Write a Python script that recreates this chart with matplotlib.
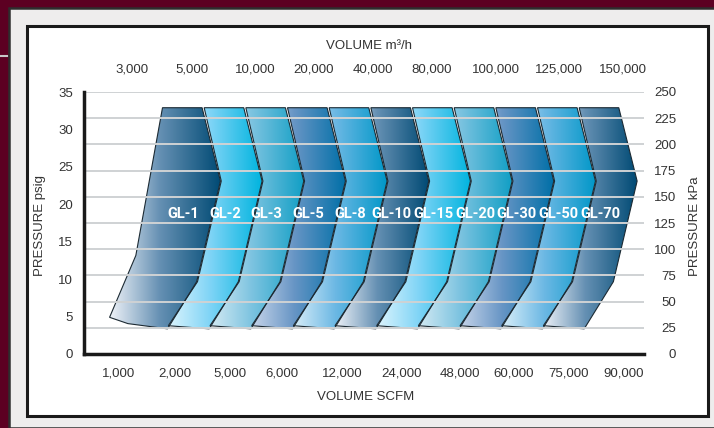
import numpy as np
import matplotlib
matplotlib.use('Agg')
import matplotlib.pyplot as plt
from matplotlib.patches import Polygon, Rectangle
from matplotlib.lines import Line2D
from matplotlib.colors import LinearSegmentedColormap

# ---- data ----
models = ['GL-1', 'GL-2', 'GL-3', 'GL-5', 'GL-8', 'GL-10',
          'GL-15', 'GL-20', 'GL-30', 'GL-50', 'GL-70']
scfm_labels = ['1,000', '2,000', '5,000', '6,000', '12,000',
               '24,000', '48,000', '60,000', '75,000', '90,000']
m3h_labels = ['3,000', '5,000', '10,000', '20,000', '40,000',
              '80,000', '100,000', '125,000', '150,000']
psig_ticks = [0, 5, 10, 15, 20, 25, 30, 35]
kpa_ticks = [0, 25, 50, 75, 100, 125, 150, 175, 200, 225, 250]

# operating envelope of each blower (kPa)
p_top = 235      # max pressure
p_tip = 165      # chevron point
p_knee = 69      # lower bend
p_low_r = 24     # bottom right corner
p_low_l = 27     # bottom left corner
# GL-1 has its own left edge
gl1_knee = 94
gl1_foot = 35
gl1_heel = 29

# ---- layout ----
W, H = 714, 428
slot = 41.67                 # px per model
ax_l, ax_r, ax_t, ax_b = 84, 644, 92, 354
base = (162.5 - ax_l) / slot
scfm_pos = [0.84, 2.18, 3.50, 4.75, 6.20, 7.63, 9.02, 10.31, 11.64, 12.94]
m3h_pos = [1.15, 2.59, 4.10, 5.50, 6.94, 8.35, 9.89, 11.40, 12.94]

themes = {
    'navy': ('#eef2f8', '#6590b3', '#004a74'),
    'cyan': ('#dcf4fd', '#7fd4f6', '#00b4df'),
    'teal': ('#d4eaf3', '#7cc3e0', '#119fc5'),
    'blue': ('#c6d4e9', '#6795c5', '#006fa7'),
    'sky':  ('#d9eef9', '#6cb8e4', '#0097c8'),
}
order = ['navy', 'cyan', 'teal', 'blue', 'sky']

txt = '#333333'
FONT = ['Liberation Sans', 'DejaVu Sans']
BOLD = ['Roboto', 'DejaVu Sans']


def fx(x):
    return x / W


def fy(y):
    return 1 - y / H


def draw_shape(ax, xs, ys, cols):
    poly = Polygon(np.column_stack([xs, ys]), closed=True, facecolor='none',
                   edgecolor='#1c2a33', lw=0.8, zorder=1.5)
    ax.add_patch(poly)
    cmap = LinearSegmentedColormap.from_list('g', [(0, cols[0]), (0.45, cols[1]), (1, cols[2])])
    grad = np.linspace(0, 1, 256).reshape(1, -1)
    im = ax.imshow(grad, cmap=cmap, extent=[min(xs), max(xs), min(ys), max(ys)],
                   aspect='auto', origin='lower', interpolation='bilinear', zorder=1)
    im.set_clip_path(poly)


fig = plt.figure(figsize=(W / 100, H / 100), dpi=100, facecolor='#5c0022')

# frames
fig.patches.append(Rectangle((fx(8.5), 0), 1, fy(7.5), transform=fig.transFigure,
                             facecolor='#eeeded', edgecolor='#2e2e2e', lw=1.8, zorder=-3))
fig.patches.append(Rectangle((fx(26.5), fy(415.5)), fx(707.5 - 26.5), (415.5 - 25.5) / H,
                             transform=fig.transFigure, facecolor='white',
                             edgecolor='#1a1a1a', lw=2.2, zorder=-2))
fig.lines.append(Line2D([0, fx(7)], [fy(56), fy(56)], transform=fig.transFigure,
                        color='#c8c8c8', lw=1.5, zorder=-2))

ax = fig.add_axes([fx(ax_l), fy(ax_b), (ax_r - ax_l) / W, (ax_b - ax_t) / H])
ax.set_facecolor('none')

for k, name in enumerate(models):
    L = base + k
    if k == 0:
        xs = [L, L + 0.95, L + 1.39, L + 0.82, L + 0.12, L - 0.83, L - 1.27, L - 0.64]
        ys = [p_top, p_top, p_tip, p_knee, p_low_r, gl1_heel, gl1_foot, gl1_knee]
    else:
        xs = [L, L + 0.95, L + 1.39, L + 0.82, L + 0.12, L - 0.86, L - 0.16, L + 0.41]
        ys = [p_top, p_top, p_tip, p_knee, p_low_r, p_low_l, p_knee, p_tip]
    draw_shape(ax, xs, ys, themes[order[k % 5]])
    ax.text(L + 0.5, 134, name, ha='center', va='center', color='white',
            fontsize=10.5, fontweight='bold', family=BOLD, zorder=3)

# gridlines on top of the shapes
for v in kpa_ticks[1:]:
    ax.axhline(v, color='#cfd2d4', lw=1.4, zorder=2)

ax.set_xlim(0, (ax_r - ax_l) / slot)
ax.set_ylim(0, 250)

for s in ['top', 'right']:
    ax.spines[s].set_visible(False)
for s in ['left', 'bottom']:
    ax.spines[s].set_linewidth(2.5)
    ax.spines[s].set_color('#1a1a1a')
    ax.spines[s].set_zorder(4)

# right kPa axis
ax.yaxis.tick_right()
ax.set_yticks(kpa_ticks)
ax.set_yticklabels([str(v) for v in kpa_ticks], ha='right', family=FONT, fontsize=9.5, color=txt)
ax.tick_params(axis='y', length=0, pad=23)

# bottom SCFM axis
ax.set_xticks(scfm_pos)
ax.set_xticklabels(scfm_labels, family=FONT, fontsize=9.5, color=txt)
ax.tick_params(axis='x', length=0, pad=10)

# left psig axis
sec_y = ax.secondary_yaxis('left', functions=(lambda k: k * 35 / 250, lambda p: p * 250 / 35))
sec_y.set_yticks(psig_ticks)
sec_y.set_yticklabels([str(v) for v in psig_ticks], family=FONT, fontsize=9.5, color=txt)
sec_y.tick_params(length=0, pad=8)
sec_y.spines['left'].set_visible(False)

# top m3/h axis
sec_x = ax.secondary_xaxis('top')
sec_x.set_xticks(m3h_pos)
sec_x.set_xticklabels(m3h_labels, family=FONT, fontsize=9.5, color=txt)
sec_x.tick_params(length=0, pad=12)
sec_x.spines['top'].set_visible(False)

fig.text(fx(369), fy(46), 'VOLUME m³/h', ha='center', va='center', family=FONT, fontsize=9.5, color=txt)
fig.text(fx(366), fy(397), 'VOLUME SCFM', ha='center', va='center', family=FONT, fontsize=9.5, color=txt)
fig.text(fx(40), fy(225), 'PRESSURE psig', rotation=90, ha='center', va='center',
         family=FONT, fontsize=9.5, color=txt)
fig.text(fx(695), fy(226), 'PRESSURE kPa', rotation=90, ha='center', va='center',
         family=FONT, fontsize=9.5, color=txt)

fig.savefig('out.png', dpi=100, facecolor=fig.get_facecolor())
